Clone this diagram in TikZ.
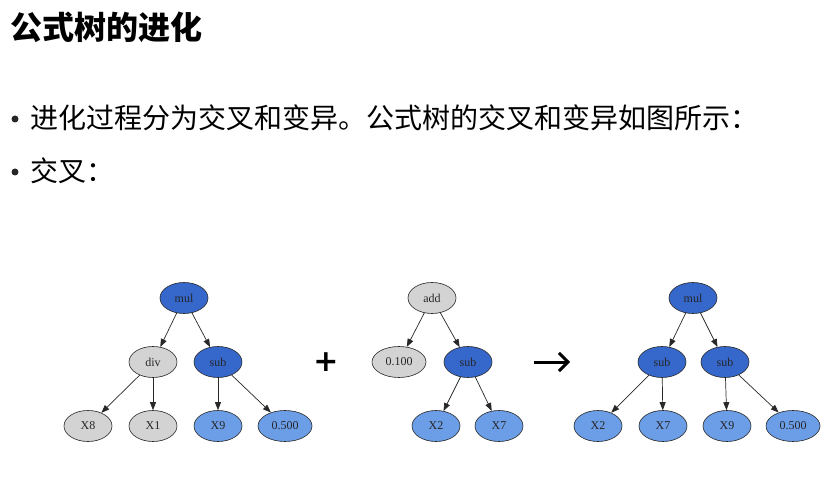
\documentclass[tikz,border=0pt]{standalone}
\usepackage{fontspec}
\setmainfont{Liberation Serif}
\newfontfamily\cjk{Noto Sans CJK SC}
\newfontfamily\djv{DejaVu Sans}
\usetikzlibrary{shapes.geometric,arrows.meta}
\definecolor{dblue}{RGB}{54,104,204}
\definecolor{lblue}{RGB}{108,158,232}
\definecolor{lgray}{RGB}{211,211,211}
\definecolor{edgec}{RGB}{40,40,40}
\tikzset{
  tn/.style={ellipse,draw=edgec,line width=0.6pt,minimum width=48pt,minimum height=31pt,inner sep=0pt,font=\fontsize{12}{12}\selectfont,text=black!85},
  dnode/.style={tn,fill=dblue},
  lnode/.style={tn,fill=lblue},
  gnode/.style={tn,fill=lgray},
  wide/.style={minimum width=54pt},
  edge/.style={draw=edgec,line width=0.7pt,-{Triangle[length=8pt,width=6pt]}},
  bodytext/.style={anchor=west,inner sep=0pt,font=\cjk\fontsize{28}{28}\selectfont},
  bul/.style={circle,fill=black!85,inner sep=0pt,minimum size=7pt},
}
\begin{document}
\begin{tikzpicture}[x=1pt,y=-1pt]
\useasboundingbox (0,0) rectangle (824,478);
\fill[white] (0,0) rectangle (824,478);
% text
\node[anchor=west,inner sep=0pt,font=\cjk\bfseries\fontsize{32}{32}\selectfont] (title) at (10,27) {公式树的进化};
\node[bul] (b1) at (15,119) {};
\node[bodytext] (t1) at (30,118) {进化过程分为交叉和变异。公式树的交叉和变异如图所示：};
\node[bul] (b2) at (15,172) {};
\node[bodytext] (t2) at (30,171) {交叉：};
% tree 1
\node[dnode] (m1) at (184,298) {mul};
\node[gnode] (d1) at (153,362) {div};
\node[dnode] (s1) at (218,362) {sub};
\node[gnode] (x8) at (88,426) {X8};
\node[gnode] (x1) at (153,426) {X1};
\node[lnode] (x9a) at (218,426) {X9};
\node[lnode,wide] (c5a) at (285,426) {0.500};
\draw[edge] (m1) -- (d1);
\draw[edge] (m1) -- (s1);
\draw[edge] (d1) -- (x8);
\draw[edge] (d1) -- (x1);
\draw[edge] (s1) -- (x9a);
\draw[edge] (s1) -- (c5a);
% plus
\node[inner sep=0pt,font=\djv\bfseries\fontsize{30}{30}\selectfont] (plus) at (326,362) {+};
% tree 2
\node[gnode] (a2) at (432,298) {add};
\node[gnode,wide] (c1) at (399,362) {0.100};
\node[dnode] (s2) at (468,362) {sub};
\node[lnode] (x2a) at (436,426) {X2};
\node[lnode] (x7a) at (499,426) {X7};
\draw[edge] (a2) -- (c1);
\draw[edge] (a2) -- (s2);
\draw[edge] (s2) -- (x2a);
\draw[edge] (s2) -- (x7a);
% arrow
\coordinate (ar0) at (534,362);
\coordinate (ar1) at (570,362);
\draw[line width=3pt,-{Straight Barb[length=9pt,width=18pt,line width=3pt]}] (ar0) -- (ar1);
% tree 3
\node[dnode] (m3) at (693,298) {mul};
\node[dnode] (s3a) at (662,362) {sub};
\node[dnode] (s3b) at (725,362) {sub};
\node[lnode] (x2b) at (598,426) {X2};
\node[lnode] (x7b) at (663,426) {X7};
\node[lnode] (x9b) at (727,426) {X9};
\node[lnode,wide] (c5b) at (793,426) {0.500};
\draw[edge] (m3) -- (s3a);
\draw[edge] (m3) -- (s3b);
\draw[edge] (s3a) -- (x2b);
\draw[edge] (s3a) -- (x7b);
\draw[edge] (s3b) -- (x9b);
\draw[edge] (s3b) -- (c5b);
\end{tikzpicture}
\end{document}
